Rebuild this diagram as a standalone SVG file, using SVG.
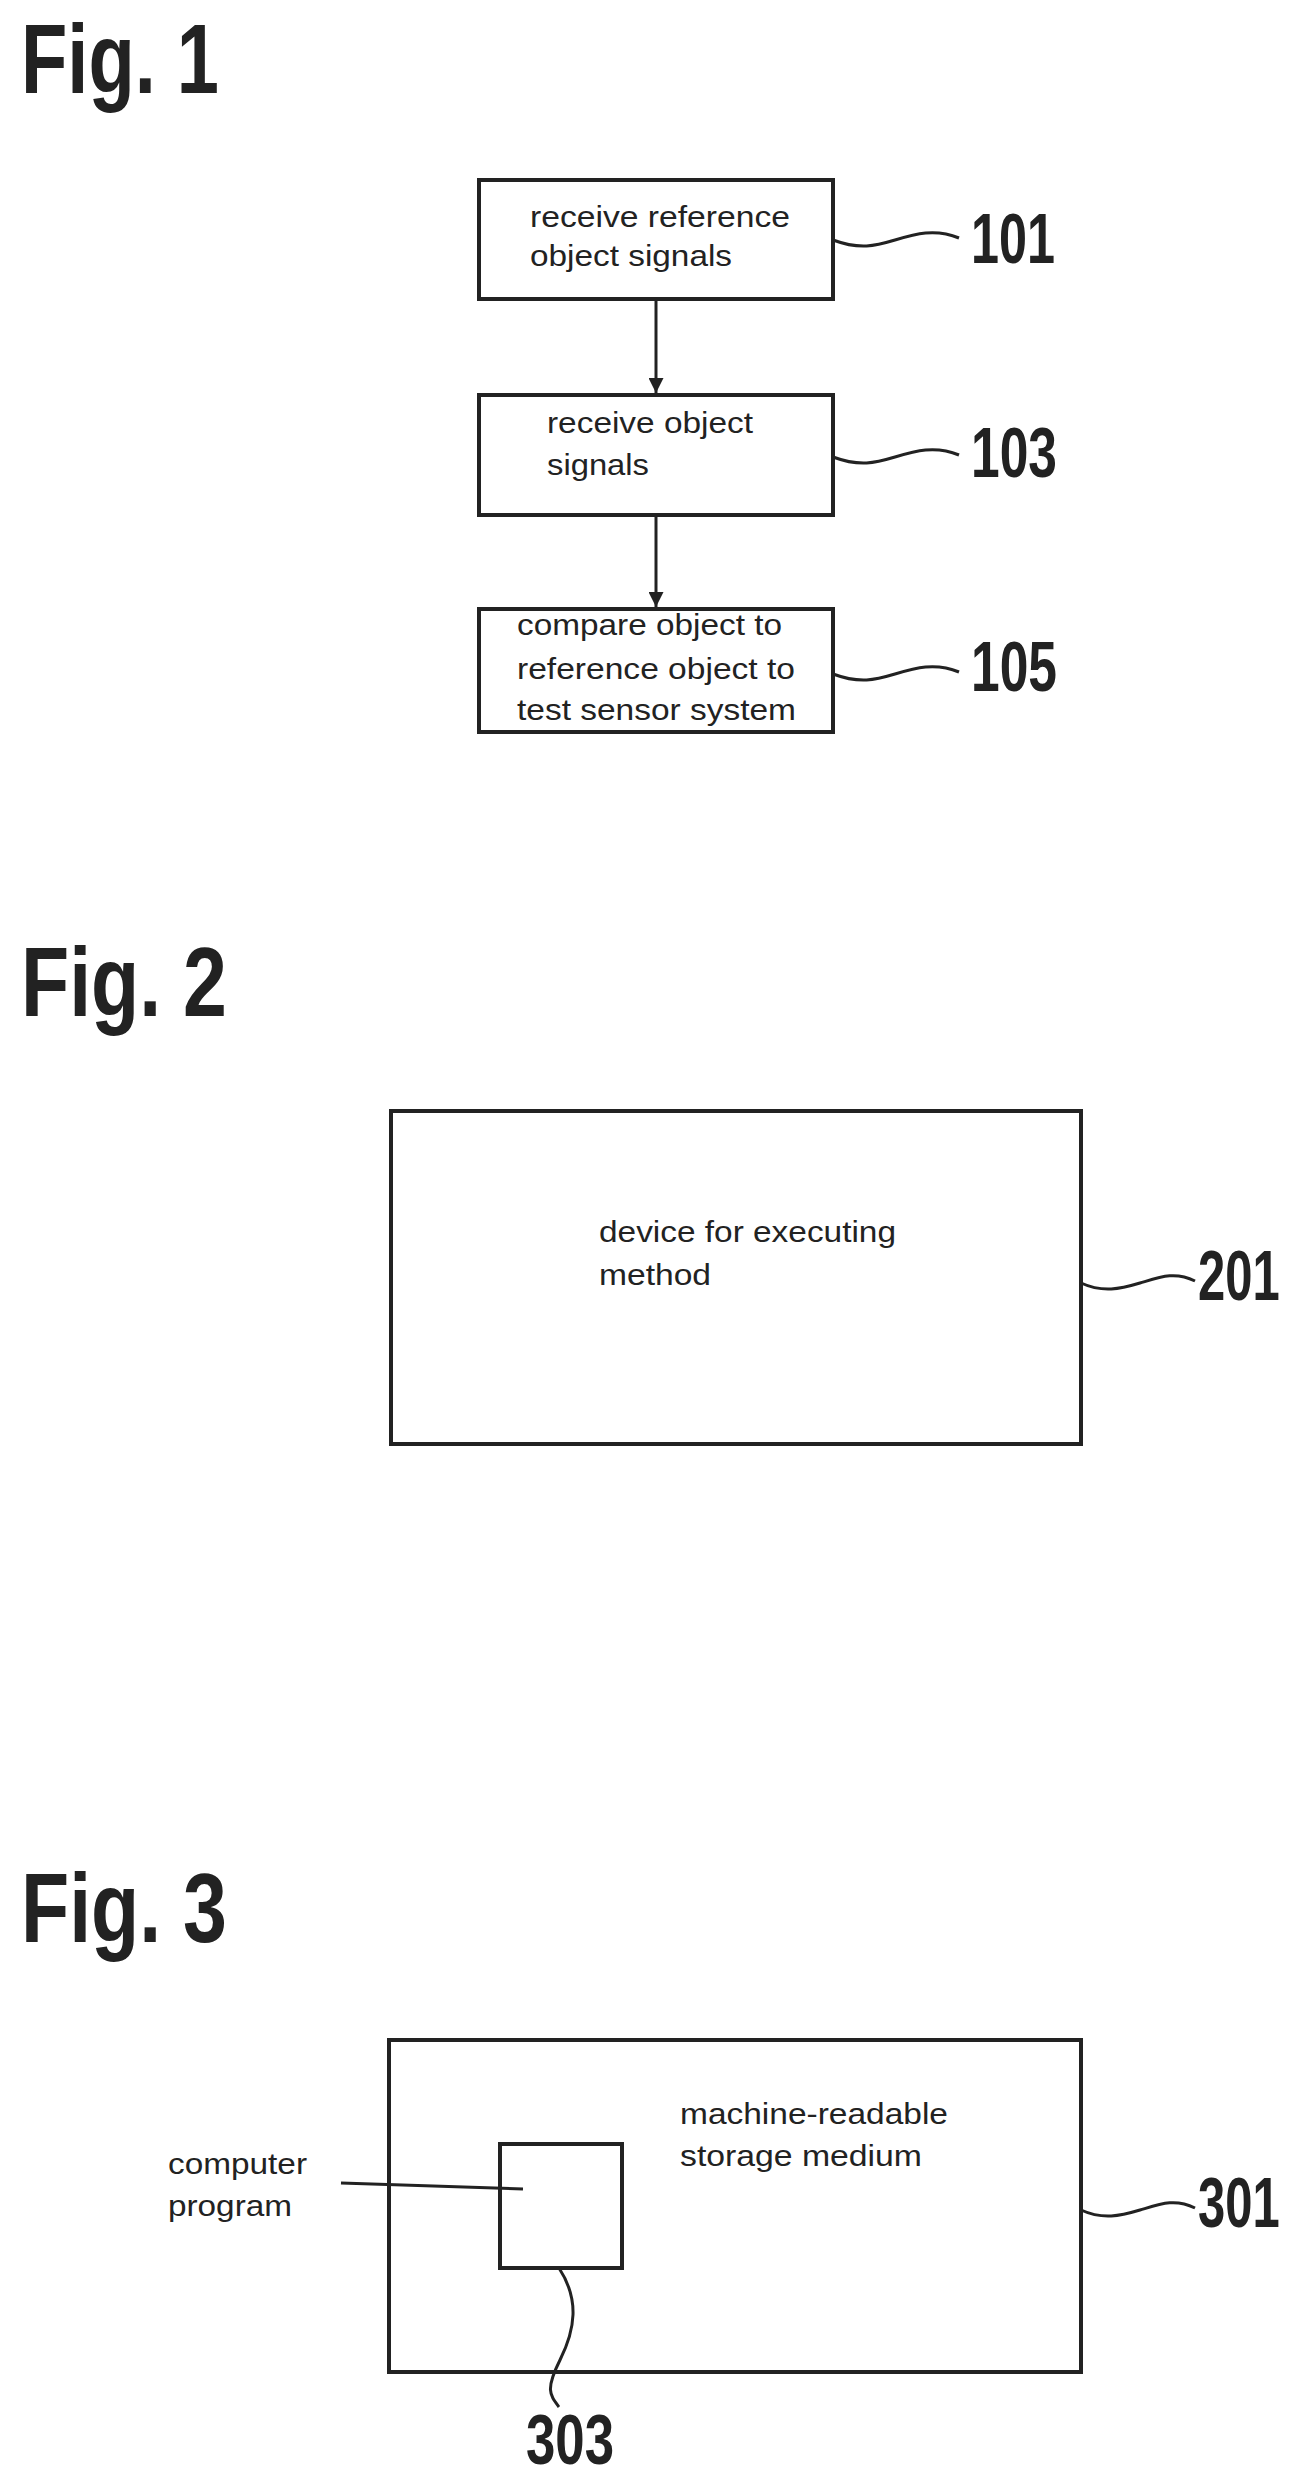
<svg xmlns="http://www.w3.org/2000/svg" width="1304" height="2479" viewBox="0 0 1304 2479">
<style>
.box{fill:none;stroke:#222;stroke-width:4}
.ln{fill:none;stroke:#222;stroke-width:3}
.t{font-family:"Liberation Sans",Arial,sans-serif;font-size:29px;fill:#222}
.num{font-family:"Liberation Sans",Arial,sans-serif;font-weight:bold;font-size:70px;fill:#222}
.fig{font-family:"Liberation Sans",Arial,sans-serif;font-weight:bold;font-size:98px;fill:#222}
</style>
<defs>
<marker id="ah" viewBox="0 0 10 10" refX="10" refY="5" markerWidth="5" markerHeight="5" orient="auto" markerUnits="strokeWidth"><path d="M0,0 L10,5 L0,10 z" fill="#222"/></marker>
</defs>
<rect width="1304" height="2479" fill="#fff"/>
<text class="fig" x="21" y="93" textLength="198" lengthAdjust="spacingAndGlyphs">Fig. 1</text>
<text class="fig" x="21" y="1016" textLength="206" lengthAdjust="spacingAndGlyphs">Fig. 2</text>
<text class="fig" x="21" y="1942" textLength="206" lengthAdjust="spacingAndGlyphs">Fig. 3</text>

<g id="connectors">
<line class="ln" x1="656" y1="299" x2="656" y2="393" marker-end="url(#ah)"/>
<line class="ln" x1="656" y1="515" x2="656" y2="607" marker-end="url(#ah)"/>
<path class="ln" d="M833,240 C860,250 875,246 895,240 S935,228 959,238"/>
<path class="ln" d="M833,457 C860,467 875,463 895,457 S935,445 959,455"/>
<path class="ln" d="M833,674 C860,684 875,680 895,674 S935,662 959,672"/>
<path class="ln" d="M1081,1283 C1103,1293 1120,1289 1140,1283 S1175,1271 1195,1281"/>
<path class="ln" d="M1081,2210 C1103,2220 1120,2216 1140,2210 S1175,2198 1195,2208"/>
<line class="ln" x1="341" y1="2183" x2="523" y2="2189"/>
<path class="ln" d="M559,2268 C580,2300 575,2330 560,2360 S550,2395 559,2407"/>
</g>

<g id="n101">
<rect class="box" x="479" y="180" width="354" height="119"/>
<text class="t" x="530" y="227" textLength="260" lengthAdjust="spacingAndGlyphs">receive reference</text>
<text class="t" x="530" y="266" textLength="202" lengthAdjust="spacingAndGlyphs">object signals</text>
<text class="num" x="971" y="263" textLength="84" lengthAdjust="spacingAndGlyphs">101</text>
</g>
<g id="n103">
<rect class="box" x="479" y="395" width="354" height="120"/>
<text class="t" x="547" y="433" textLength="206" lengthAdjust="spacingAndGlyphs">receive object</text>
<text class="t" x="547" y="475" textLength="102" lengthAdjust="spacingAndGlyphs">signals</text>
<text class="num" x="971" y="477" textLength="86" lengthAdjust="spacingAndGlyphs">103</text>
</g>
<g id="n105">
<rect class="box" x="479" y="609" width="354" height="123"/>
<text class="t" x="517" y="635" textLength="265" lengthAdjust="spacingAndGlyphs">compare object to</text>
<text class="t" x="517" y="679" textLength="278" lengthAdjust="spacingAndGlyphs">reference object to</text>
<text class="t" x="517" y="720" textLength="279" lengthAdjust="spacingAndGlyphs">test sensor system</text>
<text class="num" x="971" y="691" textLength="86" lengthAdjust="spacingAndGlyphs">105</text>
</g>
<g id="n201">
<rect class="box" x="391" y="1111" width="690" height="333"/>
<text class="t" x="599" y="1242" textLength="297" lengthAdjust="spacingAndGlyphs">device for executing</text>
<text class="t" x="599" y="1285" textLength="112" lengthAdjust="spacingAndGlyphs">method</text>
<text class="num" transform="translate(1198,1300) scale(0.7,1)" x="0" y="0">201</text>
</g>
<g id="n301">
<rect class="box" x="389" y="2040" width="692" height="332"/>
<text class="t" x="680" y="2124" textLength="268" lengthAdjust="spacingAndGlyphs">machine-readable</text>
<text class="t" x="680" y="2166" textLength="242" lengthAdjust="spacingAndGlyphs">storage medium</text>
<text class="num" transform="translate(1198,2227) scale(0.7,1)" x="0" y="0">301</text>
</g>
<g id="n303">
<rect class="box" x="500" y="2144" width="122" height="124"/>
<text class="num" x="526" y="2464" textLength="88" lengthAdjust="spacingAndGlyphs">303</text>
</g>
<g id="computer-program">
<text class="t" x="168" y="2174" textLength="139" lengthAdjust="spacingAndGlyphs">computer</text>
<text class="t" x="168" y="2216" textLength="124" lengthAdjust="spacingAndGlyphs">program</text>
</g>
</svg>
